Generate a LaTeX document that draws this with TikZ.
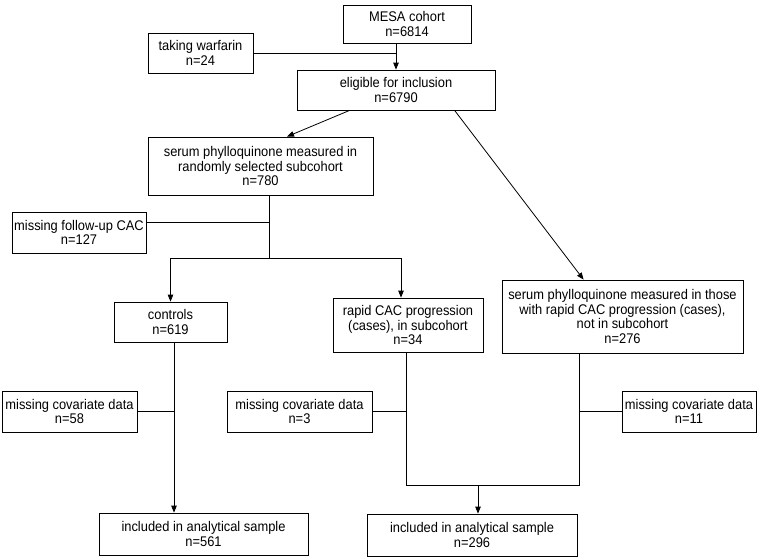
\documentclass[tikz,border=0pt]{standalone}
\usepackage{fontspec}
\setmainfont[FakeStretch=0.92]{Liberation Sans}
\usetikzlibrary{arrows.meta,calc}
\tikzset{
  box/.style={draw=black, line width=0.8pt, inner sep=0pt, align=center,
    font=\fontsize{14}{14.6}\selectfont},
  conn/.style={draw=black, line width=0.8pt},
  arr/.style={conn, -{Triangle[length=7pt,width=5.5pt]}}
}
\begin{document}
\begin{tikzpicture}[x=1pt,y=-1pt]
\useasboundingbox[fill=white] (0,0) rectangle (765,558);
% boxes
\node[box, minimum width=128pt, minimum height=38pt] (mesa) at (407,24) {MESA cohort\\n=6814};
\node[box, minimum width=105pt, minimum height=40pt] (warf) at (200.5,53) {taking warfarin\\n=24};
\node[box, minimum width=198pt, minimum height=40pt] (elig) at (396,90) {eligible for inclusion\\n=6790};
\node[box, minimum width=225pt, minimum height=58pt] (sub) at (260.5,166) {serum phylloquinone measured in\\randomly selected subcohort\\n=780};
\node[box, minimum width=134pt, minimum height=41pt] (mfu) at (79,232.5) {missing follow-up CAC\\n=127};
\node[box, minimum width=113pt, minimum height=40pt] (ctrl) at (170.5,322) {controls\\n=619};
\node[box, minimum width=150pt, minimum height=54pt] (rapid) at (408,325) {rapid CAC progression\\(cases), in subcohort\\n=34};
\node[box, minimum width=241pt, minimum height=73pt] (cases) at (622.5,316.5) {serum phylloquinone measured in those\\with rapid CAC progression (cases),\\not in subcohort\\n=276};
\node[box, minimum width=135pt, minimum height=41pt] (mc1) at (69.5,411.5) {missing covariate data\\n=58};
\node[box, minimum width=145pt, minimum height=41pt] (mc2) at (299.5,411.5) {missing covariate data\\n=3};
\node[box, minimum width=134pt, minimum height=41pt] (mc3) at (689,411.5) {missing covariate data\\n=11};
\node[box, minimum width=209pt, minimum height=42pt] (inc1) at (203.5,534) {included in analytical sample\\n=561};
\node[box, minimum width=210pt, minimum height=42pt] (inc2) at (472,535) {included in analytical sample\\n=296};
% helper coordinates
\coordinate (mtop) at (elig.north |- mesa.south);
\coordinate (d1s) at ($(elig.south west)+(53,0)$);
\coordinate (d1e) at ($(sub.north)+(26.5,0)$);
\coordinate (d2s) at ($(elig.south west)+(158,0)$);
\coordinate (d2e) at ($(cases.north west)+(82,0)$);
\coordinate (subo) at ($(sub.south)+(8.5,0)$);
\coordinate (br) at ($(subo)+(0,63)$);
\coordinate (mfuj) at ($(mfu.east)+(0,-10.5)$);
\coordinate (brl) at (ctrl.north |- br);
\coordinate (rin) at ($(rapid.north)+(-7,0)$);
\coordinate (brr) at (rin |- br);
\coordinate (co) at ($(ctrl.south)+(3.5,0)$);
\coordinate (ci) at (co |- inc1.north);
\coordinate (ro) at ($(rapid.south)+(-2,0)$);
\coordinate (cso) at ($(cases.south west)+(78,0)$);
\coordinate (bl) at (ro |- 0,485);
\coordinate (brt) at (cso |- 0,485);
\coordinate (ia) at ($(inc2.north)+(6,0)$);
\coordinate (iat) at (ia |- bl);
% connectors
\draw[arr] (mtop) -- (elig.north);
\draw[conn] (warf.east) -- (warf.east -| elig.north);
\draw[arr] (d1s) -- (d1e);
\draw[arr] (d2s) -- (d2e);
\draw[conn] (subo) -- (br);
\draw[conn] (mfuj) -- (mfuj -| subo);
\draw[conn] (brl) -- (brr);
\draw[arr] (brl) -- (ctrl.north);
\draw[arr] (brr) -- (rin);
\draw[arr] (co) -- (ci);
\draw[conn] (mc1.east) -- (mc1.east -| co);
\draw[conn] (ro) -- (bl) -- (brt) -- (cso);
\draw[conn] (mc2.east) -- (mc2.east -| ro);
\draw[conn] (mc3.west) -- (mc3.west -| cso);
\draw[arr] (iat) -- (ia);
\end{tikzpicture}
\end{document}
